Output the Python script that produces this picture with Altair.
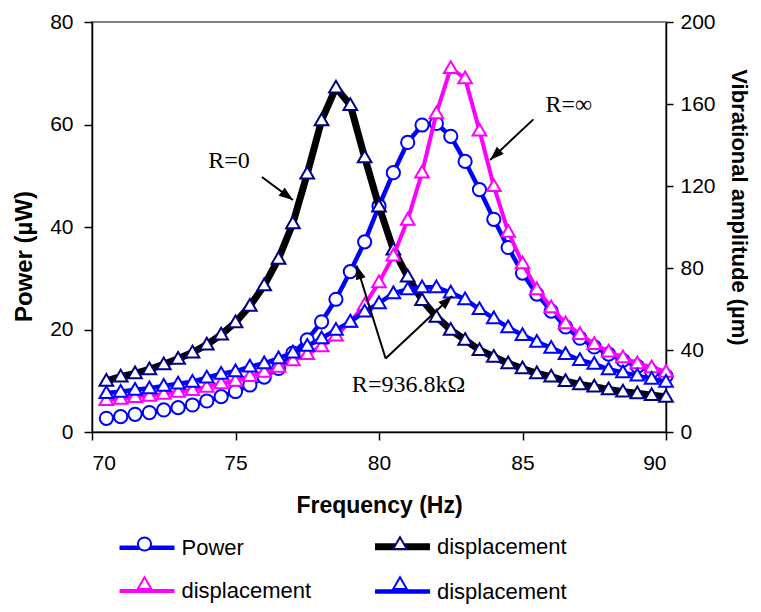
import math
import altair as alt
import pandas as pd

# ---------------- data ----------------
freq = [70.5, 71.0, 71.5, 72.0, 72.5, 73.0, 73.5, 74.0, 74.5, 75.0,
        75.5, 76.0, 76.5, 77.0, 77.5, 78.0, 78.5, 79.0, 79.5, 80.0,
        80.5, 81.0, 81.5, 82.0, 82.5, 83.0, 83.5, 84.0, 84.5, 85.0,
        85.5, 86.0, 86.5, 87.0, 87.5, 88.0, 88.5, 89.0, 89.5, 90.0]

power = [2.67, 3.0, 3.45, 3.8, 4.3, 4.75, 5.27, 6.05, 6.9, 7.9,
         9.17, 10.7, 12.4, 15.4, 18.0, 21.5, 25.9, 31.3, 37.1, 44.1,
         50.6, 56.5, 59.9, 60.2, 57.7, 52.8, 47.3, 41.5, 36.0, 31.0,
         26.9, 23.6, 20.5, 18.3, 16.6, 15.2, 14.0, 12.8, 11.8, 10.9]

disp_r0 = [25.0, 27.0, 28.6, 30.6, 33.0, 35.7, 38.8, 42.6, 47.5, 53.5,
           61.5, 71.5, 84.5, 101.8, 126.0, 152.0, 168.0, 159.5, 134.0, 110.0,
           89.0, 75.8, 64.4, 56.2, 49.8, 44.9, 40.0, 36.7, 33.5, 31.0,
           28.6, 27.0, 24.8, 23.2, 22.1, 20.8, 19.7, 18.9, 18.0, 17.2]

disp_rinf = [15.6, 16.2, 17.0, 17.7, 18.6, 19.6, 20.5, 22.0, 23.7, 25.0,
             27.3, 29.3, 31.8, 35.0, 38.0, 41.8, 47.0, 53.8, 62.0, 73.0,
             86.0, 103.5, 126.5, 155.5, 177.5, 172.5, 147.0, 120.0, 97.7, 82.3,
             69.6, 60.8, 53.0, 47.8, 42.9, 39.2, 36.4, 33.5, 31.6, 29.4]

disp_r936 = [19.0, 19.6, 20.6, 21.3, 22.5, 23.6, 24.5, 26.5, 28.4, 29.6,
             31.9, 33.5, 35.9, 38.7, 42.0, 45.7, 49.8, 53.8, 58.7, 62.8,
             67.7, 69.6, 70.6, 70.6, 68.0, 64.7, 59.9, 55.4, 51.0, 47.3,
             44.0, 41.1, 38.0, 35.1, 33.2, 30.6, 29.1, 27.5, 25.9, 24.5]

series_labels = ["Power", "displacement", "displacement", "displacement"]
line_keys = ["L1", "L2", "L3", "L4"]
mark_keys = ["M1", "M2", "M3", "M4"]

x_ticks = [70, 75, 80, 85, 90]
p_ticks = [0, 20, 40, 60, 80]
d_ticks = [0, 40, 80, 120, 160, 200]

ann_text = ["R=0", "R=\u221e", "R=936.8k\u03a9"]
ann_text_f = [74.77, 86.61, 81.03]
ann_text_p = [51.45, 62.4, 7.75]

arrow_f0 = [75.92, 85.38, 80.23, 80.23]
arrow_p0 = [49.76, 61.0, 14.34, 14.34]
arrow_f1 = [77.00, 83.87, 79.22, 82.55]
arrow_p1 = [45.27, 53.07, 32.49, 26.54]

# ---------------- styling ----------------
W, H = 574, 410
XDOM, PDOM, DDOM = [70, 90], [0, 80], [0, 200]
BLUE, NAVY, MAGENTA, BLACK = "#0000FF", "#000080", "#FF00FF", "#000000"

line_colors = [BLUE, BLACK, MAGENTA, BLUE]
line_widths = [4.5, 7, 4, 4.5]
mark_colors = [BLUE, NAVY, MAGENTA, BLUE]
CIRCLE = "M0.55,0A0.55,0.55,0,1,1,-0.55,0A0.55,0.55,0,1,1,0.55,0Z"
TRI = "M0,-0.57L0.57,0.41L-0.57,0.41Z"
mark_shapes = [CIRCLE, TRI, TRI, TRI]
SYM = 576

label_expr = " : ".join(
    f"datum.value == '{a}' ? '{lab}'" for a, lab in zip(line_keys, series_labels)
) + " : ''"

LEG_X, LEG_Y = 39.5, 509
line_legend = alt.Legend(
    title=None, orient="none", legendX=LEG_X, legendY=LEG_Y, direction="horizontal",
    columns=2, columnPadding=49.5, rowPadding=16, labelOffset=19,
    labelFontSize=22, labelFont="Liberation Sans", labelColor="black",
    symbolSize=SYM, labelExpr=label_expr, padding=0, offset=0, labelLimit=400,
    symbolOpacity=1, symbolType="M-2.29,0H2.29", symbolStrokeWidth=4)
mark_legend = alt.Legend(
    title=None, orient="none", legendX=LEG_X, legendY=LEG_Y, direction="horizontal",
    columns=2, columnPadding=229.5, rowPadding=16, labelOffset=0,
    labelFontSize=22, labelFont="Liberation Sans", labelExpr="''",
    symbolSize=SYM, padding=0, offset=0, symbolOpacity=1,
    symbolFillColor="white", symbolStrokeWidth=2)

xs = alt.Scale(domain=XDOM, nice=False, zero=False)
X = alt.X("f:Q", scale=xs,
          axis=alt.Axis(values=x_ticks, format="d", title="Frequency (Hz)",
                        labelPadding=12, titlePadding=21, titleFontSize=23))

color_scale = alt.Scale(domain=line_keys, range=line_colors)
width_scale = alt.Scale(type="ordinal", domain=line_keys, range=line_widths)
stroke_scale = alt.Scale(domain=mark_keys, range=mark_colors)
shape_scale = alt.Scale(domain=mark_keys, range=mark_shapes)


def series_layers(values, i, Y):
    d = pd.DataFrame({"f": freq, "v": values, "lk": line_keys[i], "mk": mark_keys[i]})
    base = alt.Chart(d)
    line = base.mark_line(strokeJoin="round").encode(
        x=X, y=Y,
        color=alt.Color("lk:N", scale=color_scale, legend=line_legend),
        strokeWidth=alt.StrokeWidth("lk:N", scale=width_scale, legend=line_legend),
    )
    pts = base.mark_point(fill="white", filled=False, size=SYM, strokeWidth=2, opacity=1).encode(
        x=X, y=Y,
        stroke=alt.Stroke("mk:N", scale=stroke_scale, legend=mark_legend),
        shape=alt.Shape("mk:N", scale=shape_scale, legend=mark_legend),
    )
    return [line, pts]


YP = alt.Y("v:Q", scale=alt.Scale(domain=PDOM, nice=False),
           axis=alt.Axis(orient="left", values=p_ticks, title="Power (\u00b5W)",
                         labelPadding=11, titlePadding=13, titleFontSize=24, titleY=234))
YD = alt.Y("v:Q", scale=alt.Scale(domain=DDOM, nice=False),
           axis=alt.Axis(orient="right", values=d_ticks, title="Vibrational amplitude (\u00b5m)",
                         labelPadding=7, titlePadding=11, tickSize=7, titleFontSize=22,
                         titleY=185))

left = alt.layer(*series_layers(power, 0, YP))
right = alt.layer(*(series_layers(disp_r0, 1, YD) + series_layers(disp_rinf, 2, YD)
                    + series_layers(disp_r936, 3, YD)))

# ---------------- annotations ----------------
YA = alt.Y("p:Q", scale=alt.Scale(domain=PDOM, nice=False), axis=None)
pxf, pxp = W / (XDOM[1] - XDOM[0]), H / (PDOM[1] - PDOM[0])
R_HEAD = 7
hf, hp, ha = [], [], []
for f0, p0, f1, p1 in zip(arrow_f0, arrow_p0, arrow_f1, arrow_p1):
    dx, dy = (f1 - f0) * pxf, -(p1 - p0) * pxp
    L = math.hypot(dx, dy)
    ux, uy = dx / L, dy / L
    ha.append(math.degrees(math.atan2(ux, -uy)) % 360)
    hf.append(f1 - R_HEAD * ux / pxf)
    hp.append(p1 + R_HEAD * uy / pxp)

arrows = pd.DataFrame({"f": arrow_f0, "p": arrow_p0, "f2": arrow_f1, "p2": arrow_p1})
heads = pd.DataFrame({"f": hf, "p": hp, "ang": ha})
texts = pd.DataFrame({"f": ann_text_f, "p": ann_text_p, "t": ann_text})

ann_lines = alt.Chart(arrows).mark_rule(color="black", strokeWidth=2).encode(
    x=X, y=YA, x2="f2:Q", y2="p2:Q")
ann_heads = alt.Chart(heads).mark_point(shape="M0,-1L0.72,1L-0.72,1Z", filled=True,
                                        color="black", size=(2 * R_HEAD) ** 2, opacity=1).encode(
    x=X, y=YA, angle=alt.Angle("ang:Q", scale=None))
ann_text_m = alt.Chart(texts).mark_text(font="Liberation Serif", fontSize=24, align="center",
                                        baseline="alphabetic", color="black").encode(
    x=X, y=YA, text="t:N")
ann = alt.layer(ann_lines, ann_heads, ann_text_m)

chart = alt.layer(left, right, ann).resolve_scale(y="independent").properties(
    width=W, height=H,
    autosize=alt.AutoSizeParams(type="none"),
    padding={"left": 84, "top": 14, "right": 87, "bottom": 172},
).configure_view(stroke="#808080", strokeWidth=2).configure_axis(
    grid=False, domainColor="black", tickColor="black", labelColor="black",
    titleColor="black", labelFont="Liberation Sans", titleFont="Liberation Sans",
    labelFontSize=21, titleFontSize=21, titleFontWeight="bold",
    domainWidth=1.5, tickWidth=1.5, tickSize=8)

chart.save("out.html", embed_options={"renderer": "svg", "actions": False})
